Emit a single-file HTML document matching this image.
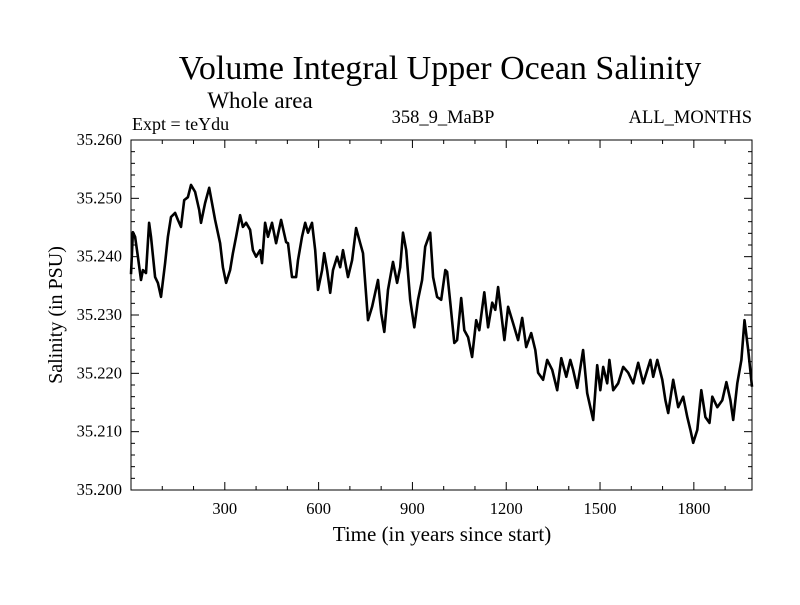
<!DOCTYPE html>
<html><head><meta charset="utf-8"><style>
body{margin:0;background:#fff}
svg text{font-family:"Liberation Serif",serif;fill:#000}
</style></head><body>
<svg id="chart" width="800" height="600" viewBox="0 0 800 600" xmlns="http://www.w3.org/2000/svg">
<rect width="800" height="600" fill="#fff"/>
<text x="440" y="79" font-size="34" text-anchor="middle">Volume Integral Upper Ocean Salinity</text>
<text x="260" y="108" font-size="23" text-anchor="middle">Whole area</text>
<text x="132" y="130" font-size="18">Expt = teYdu</text>
<text x="443" y="123" font-size="18.5" text-anchor="middle">358_9_MaBP</text>
<text x="752" y="123" font-size="18.5" text-anchor="end">ALL_MONTHS</text>
<g id="axes"></g>
<path id="line" fill="none" stroke="#000" stroke-width="2.6" stroke-linejoin="round"/>
<rect x="131" y="140" width="621" height="350" fill="none" stroke="#000" stroke-width="1"/>
<text x="442" y="541" font-size="21" text-anchor="middle">Time (in years since start)</text>
<text transform="translate(62,315) rotate(-90)" font-size="20" text-anchor="middle">Salinity (in PSU)</text>
</svg>
<script>
const years=[0,6,13,22,32,38,48,58,64,77,86,96,109,118,128,141,150,160,170,182,192,205,218,224,237,250,259,269,285,294,304,317,326,336,349,358,368,381,390,400,413,419,429,438,451,464,480,496,502,515,528,534,547,557,566,579,589,598,611,618,627,637,646,659,669,678,694,707,720,733,742,758,771,790,800,810,822,838,851,861,870,880,893,906,918,931,941,957,966,979,992,1005,1011,1021,1034,1043,1056,1066,1078,1091,1104,1114,1130,1142,1155,1165,1174,1194,1206,1222,1238,1251,1264,1280,1293,1302,1318,1331,1347,1363,1376,1392,1405,1414,1427,1446,1459,1478,1491,1501,1510,1523,1530,1542,1558,1574,1590,1606,1622,1638,1661,1670,1683,1699,1709,1718,1734,1750,1766,1779,1789,1798,1811,1824,1837,1850,1859,1875,1891,1904,1917,1926,1939,1952,1962,1974,1986];
const salinity=[35.2370,35.2442,35.2434,35.2400,35.2360,35.2377,35.2372,35.2458,35.2434,35.2365,35.2355,35.2331,35.2389,35.2434,35.2468,35.2475,35.2463,35.2451,35.2497,35.2502,35.2523,35.2511,35.2480,35.2458,35.2492,35.2518,35.2492,35.2463,35.2423,35.2382,35.2355,35.2377,35.2406,35.2434,35.2471,35.2451,35.2458,35.2446,35.2411,35.2400,35.2411,35.2389,35.2458,35.2434,35.2458,35.2423,35.2463,35.2425,35.2423,35.2365,35.2365,35.2394,35.2434,35.2458,35.2441,35.2458,35.2411,35.2343,35.2377,35.2406,35.2377,35.2338,35.2377,35.2400,35.2382,35.2411,35.2365,35.2394,35.2449,35.2423,35.2406,35.2291,35.2314,35.2360,35.2303,35.2271,35.2343,35.2391,35.2355,35.2382,35.2441,35.2411,35.2326,35.2279,35.2326,35.2360,35.2417,35.2441,35.2365,35.2331,35.2326,35.2377,35.2374,35.2321,35.2252,35.2257,35.2329,35.2274,35.2262,35.2228,35.2291,35.2274,35.2339,35.2279,35.2321,35.2309,35.2348,35.2257,35.2314,35.2286,35.2257,35.2295,35.2245,35.2269,35.2240,35.2201,35.2189,35.2223,35.2206,35.2171,35.2226,35.2194,35.2223,35.2206,35.2175,35.2240,35.2166,35.2120,35.2214,35.2171,35.2211,35.2183,35.2223,35.2171,35.2183,35.2211,35.2201,35.2183,35.2218,35.2183,35.2223,35.2194,35.2223,35.2189,35.2154,35.2132,35.2189,35.2142,35.2160,35.2125,35.2103,35.2081,35.2103,35.2171,35.2125,35.2115,35.2160,35.2142,35.2154,35.2185,35.2154,35.2120,35.2183,35.2223,35.2291,35.2240,35.2177];
const xTickVals=[300,600,900,1200,1500,1800];
const yTickVals=[35.200,35.210,35.220,35.230,35.240,35.250,35.260];
const X0=131,X1=752,Y0=490,Y1=140,XMAX=1986,YMIN=35.2,YMAX=35.26;
function sx(v){return X0+v/XMAX*(X1-X0);}
function sy(v){return Y0-(v-YMIN)/(YMAX-YMIN)*(Y0-Y1);}
const NS="http://www.w3.org/2000/svg";
const g=document.getElementById('axes');
function ln(x1,y1,x2,y2,name){const l=document.createElementNS(NS,'line');l.setAttribute('x1',x1);l.setAttribute('y1',y1);l.setAttribute('x2',x2);l.setAttribute('y2',y2);l.setAttribute('stroke','#000');l.setAttribute('stroke-width','1');


g.appendChild(l);}
function tx(x,y,s,anchor,name){const t=document.createElementNS(NS,'text');t.setAttribute('x',x);t.setAttribute('y',y);t.setAttribute('font-size','16.5');t.setAttribute('text-anchor',anchor);t.textContent=s;


g.appendChild(t);}
for(let v=100;v<XMAX;v+=100){const x=sx(v);const major=v%300===0;const L=major?8:4;
ln(x,Y0,x,Y0-L,'x-tick');ln(x,Y1,x,Y1+L,'x-tick-top');}
xTickVals.forEach(v=>tx(sx(v),514,String(v),'middle','x-tick-label'));
for(let i=0;i<=30;i++){const v=YMIN+i*0.002;const y=sy(v);const major=i%5===0;const L=major?8:4;
ln(X0,y,X0+L,y,'y-tick');ln(X1,y,X1-L,y,'y-tick-right');}
yTickVals.forEach(v=>tx(122,sy(v)+5,v.toFixed(3),'end','y-tick-label'));
document.getElementById('line').setAttribute('d',years.map((y,i)=>(i?'L':'M')+sx(y).toFixed(1)+','+sy(salinity[i]).toFixed(1)).join(''));
</script>
</body></html>
